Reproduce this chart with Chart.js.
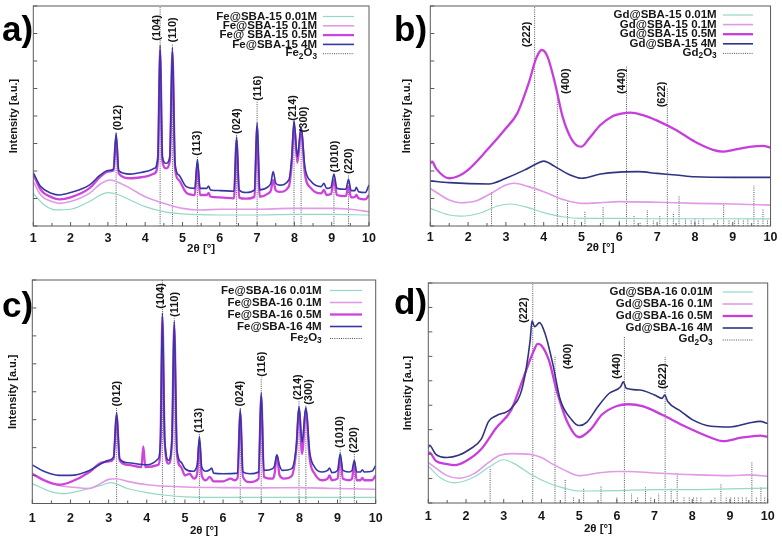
<!DOCTYPE html>
<html>
<head>
<meta charset="utf-8">
<script src="https://cdn.jsdelivr.net/npm/chart.js@4"></script>
<style>
  html, body { margin: 0; padding: 0; background: #fff; }
  #wrap { position: relative; width: 782px; height: 545px; overflow: hidden; }
  canvas { position: absolute; }
</style>
</head>
<body>
<div id="wrap">
  <canvas id="cA" width="391" height="272" style="left:0;top:0"></canvas>
  <canvas id="cB" width="391" height="272" style="left:391px;top:0"></canvas>
  <canvas id="cC" width="391" height="273" style="left:0;top:272px"></canvas>
  <canvas id="cD" width="391" height="273" style="left:391px;top:272px"></canvas>
</div>
<script>
// ------------------ data (2θ, intensity a.u.) ------------------
// a) Fe@SBA-15
const a001 = [[1,14.8],[1.3,9.5],[1.6,7.3],[2,7.6],[2.5,11.1],[2.8,14.1],[3,15.2],[3.3,14.1],[3.6,11.8],[4,8.8],[4.5,6.5],[5,5.5],[6,5],[7,5],[8,5.3],[9,5.3],[10,5]];
const a01 = [[1,20.2],[1.2,14.1],[1.5,11.1],[1.7,10.3],[2,11.1],[2.5,14.8],[2.8,19.1],[3.05,20.9],[3.3,19.7],[3.6,17.1],[4,13.3],[4.5,10.3],[5,8],[5.5,7.3],[6,7.6],[7,7.6],[7.9,8],[8.5,8],[9,8],[9.5,7.6],[10,6.5]];
const a05 = [[1,23.6],[1.2,16.4],[1.5,13],[1.7,12.1],[2,13],[2.5,17.1],[2.8,22.4],[3,24.7],[3.15,25.2],[3.22,40.6],[3.29,23.9],[3.6,21.7],[4,22.4],[4.25,23.9],[4.34,29.5],[4.4,79.8],[4.46,29.5],[4.56,26.2],[4.66,29.5],[4.73,79.2],[4.8,26.2],[4.9,20.9],[5.1,15.2],[5.33,14.1],[5.4,28.5],[5.47,14.1],[5.65,14.1],[5.7,15],[5.75,13.3],[6,13],[6.38,12.6],[6.45,39.1],[6.52,12.9],[6.7,12.4],[6.93,13.3],[7,45.2],[7.07,13.3],[7.3,14.8],[7.37,16.2],[7.43,20.9],[7.5,16.2],[7.6,15.5],[7.85,17.9],[7.93,28.8],[7.99,45.9],[8.08,28.8],[8.18,43.3],[8.28,23.9],[8.45,17.1],[8.72,14.8],[8.79,16.4],[8.86,14.1],[8.98,14.5],[9.06,20.9],[9.14,14.1],[9.38,13.6],[9.45,18],[9.52,13],[9.62,13.2],[9.66,14.1],[9.72,12.6],[9.9,12.1],[10,14.1]];
const a4 = [[1,24.2],[1.2,17.9],[1.5,14.8],[1.7,14.1],[2,15.2],[2.5,18.6],[2.8,23.2],[3,25.2],[3.15,25.8],[3.22,42.1],[3.29,25.2],[3.6,23.6],[4,24.7],[4.25,26.2],[4.34,31.5],[4.4,82.3],[4.46,31.5],[4.56,28.5],[4.66,31.5],[4.73,81.1],[4.8,28.5],[4.9,23.2],[5.1,17.9],[5.33,17.1],[5.4,30.3],[5.47,17.1],[5.65,17.1],[5.7,18.2],[5.75,16.4],[6,16.1],[6.38,15.8],[6.45,40.6],[6.52,16.4],[6.7,15.2],[6.93,16.4],[7,47],[7.07,16.4],[7.3,17.9],[7.37,19.5],[7.43,24.7],[7.5,19.5],[7.6,18.6],[7.85,20.9],[7.93,31.5],[7.99,47.9],[8.08,31.5],[8.18,45.2],[8.28,27],[8.45,20.2],[8.72,17.9],[8.79,19.4],[8.86,17.1],[8.98,17.6],[9.06,23.6],[9.14,17.1],[9.38,16.7],[9.45,21.2],[9.52,16.1],[9.62,16.1],[9.66,17.6],[9.72,15.6],[9.9,15.2],[10,18.6]];
const aRefX = [3.22, 4.40, 4.73, 5.40, 6.45, 7.0, 7.99, 8.18, 9.06, 9.45];
const aRefH = [42.9, 100, 83, 31.5, 41.4, 56.5, 47.4, 42.1, 23.9, 23.2];
const aPeakText = ["(012)", "(104)", "(110)", "(113)", "(024)", "(116)", "(214)", "(300)", "(1010)", "(220)"];
const aPeakX = [3.27, 4.32, 4.75, 5.38, 6.45, 7.02, 7.95, 8.26, 9.09, 9.45];
const aPeakY = [42.9, 83.8, 83, 31.5, 41.4, 56.5, 47.4, 42.1, 23.9, 23.2];
const aNames = ["Fe@SBA-15 0.01M", "Fe@SBA-15 0.1M", "Fe@ SBA-15 0.5M", "Fe@SBA-15 4M"];

// b) Gd@SBA-15
const b001 = [[1,8],[1.5,5],[1.8,4.5],[2.3,5.8],[2.8,9.2],[3.1,10],[3.5,8.8],[4,6.1],[4.5,4.2],[5,3.5],[6,3.5],[7,3.3],[8,3.3],[9,3.3],[10,3.2]];
const b01 = [[1,17.1],[1.5,11.8],[1.8,10.6],[2.2,11.4],[2.6,14.8],[3,18.6],[3.2,19.4],[3.6,17.9],[4,15.6],[4.5,12.1],[5,10.3],[5.5,10.6],[6,11.1],[7,10.8],[8,10.3],[9,10],[10,9.5]];
const b05 = [[1,28.5],[1.05,29.2],[1.15,26.2],[1.5,21.7],[1.8,23.2],[2,25.5],[2.5,34.5],[3,44.4],[3.3,51.2],[3.6,64.8],[3.8,76.2],[3.95,80],[4.1,77],[4.3,64.8],[4.5,49.7],[4.7,40.6],[4.9,36.4],[5,36.1],[5.2,39.8],[5.5,45.9],[5.8,49.7],[6.1,51.2],[6.3,51.5],[6.6,50.5],[7,47.9],[7.5,43.6],[8,38.3],[8.5,34.5],[8.75,33.8],[9,34.5],[9.5,36.1],[9.8,36.4],[10,35.6]];
const b4 = [[1,20.5],[1.5,19.7],[2.55,19.1],[3,21.7],[3.5,25.5],[3.8,28.2],[4,29.5],[4.3,27],[4.7,23.2],[5,21.7],[5.5,23.6],[6,24.5],[6.5,24.7],[7,23.9],[7.5,23.2],[8,22.4],[9,22.1],[10,22.1]];
const bRefX = [2.62, 3.76, 4.36, 4.63, 4.82, 5.09, 5.57, 6.0, 6.19, 6.39, 6.55, 6.74, 6.9, 7.07, 7.27, 7.43, 7.58, 7.75, 7.9, 8.0, 8.1, 8.22, 8.6, 8.76, 8.9, 9.05, 9.15, 9.28, 9.4, 9.56, 9.67, 9.8, 9.92];
const bRefH = [15.6, 100, 58.8, 11.1, 2.7, 7, 8.5, 2.4, 72.4, 5, 2, 7.3, 2.4, 4.5, 63, 6.1, 13.6, 3.5, 2.7, 3.5, 3, 3.5, 2.7, 9.8, 3, 2.7, 3.3, 3, 3.3, 18.3, 2.7, 7.6, 2.7];
const bPeakText = ["(222)", "(400)", "(440)", "(622)"];
const bPeakX = [3.57, 4.58, 6.08, 7.13];
const bPeakY = [80.8, 59.5, 59.5, 53.5];
const bNames = ["Gd@SBA-15 0.01M", "Gd@SBA-15 0.1M", "Gd@SBA-15 0.5M", "Gd@SBA-15 4M"];

// c) Fe@SBA-16
const c001 = [[1,8.9],[1.5,5.2],[1.8,4.4],[2.3,5.9],[2.8,8.1],[3.05,9.3],[3.5,6.7],[4,4.9],[4.5,3.7],[5,3],[6,2.7],[7,2.7],[8,2.7],[9,2.7],[10,2.7]];
const c01 = [[1,13.3],[1.3,10.8],[1.7,8.1],[2,7.4],[2.5,6.7],[2.7,8.1],[3,10.8],[3.2,11.1],[3.5,9.9],[4,8.4],[5,7.4],[6,7.1],[7,7],[8,7.1],[9,6.7],[10,6.4]];
const c05 = [[1,13.3],[1.3,10.4],[1.7,8.4],[2,9.6],[2.5,14.1],[2.8,18.2],[3,18.8],[3.13,20],[3.21,39.3],[3.29,19.3],[3.5,17.3],[3.86,16.3],[3.91,25.6],[3.96,16.3],[4.3,17.3],[4.36,27.4],[4.41,83.7],[4.47,27.4],[4.57,17.8],[4.66,27.4],[4.72,80],[4.79,22.2],[4.9,16.3],[5,12.6],[5.13,13.3],[5.17,12.4],[5.24,11.1],[5.32,13.3],[5.38,28.1],[5.44,12.6],[5.55,10.4],[5.65,11.9],[5.75,9.9],[6,9.9],[6.2,11.1],[6.3,10.4],[6.38,11.4],[6.45,40.7],[6.52,11.9],[6.7,9.6],[6.93,11.1],[7,48.1],[7.07,11.9],[7.3,11.1],[7.35,13.3],[7.41,21.5],[7.48,12.6],[7.6,11.1],[7.8,12.3],[7.92,24.4],[7.99,42.2],[8.07,22.2],[8.17,41.9],[8.27,20],[8.4,13.3],[8.6,10.4],[8.74,11.1],[8.79,12.6],[8.85,10.4],[9,11.1],[9.07,20.7],[9.14,11.1],[9.3,10.4],[9.38,11.1],[9.44,18.5],[9.5,10.4],[9.6,10.4],[9.65,11.5],[9.7,10.4],[9.9,10.4],[10,12.6]];
const c4 = [[1,17.3],[1.3,14.4],[1.7,12.6],[2,12.6],[2.5,14.8],[2.8,17.8],[3,19.3],[3.13,20.7],[3.21,40.7],[3.29,20],[3.5,18.2],[4,17.3],[4.3,20],[4.36,28.9],[4.41,85.2],[4.47,28.9],[4.57,19.3],[4.66,28.9],[4.72,81.5],[4.79,24.4],[4.9,18.5],[5,15.6],[5.2,14.4],[5.32,17],[5.38,29.9],[5.44,16.3],[5.55,14.4],[5.65,15.1],[5.7,15.9],[5.75,13.6],[6,13.3],[6.38,13.6],[6.45,42.2],[6.52,14.1],[6.7,13.3],[6.93,14.1],[7,49.6],[7.07,14.8],[7.3,15.6],[7.35,17],[7.41,21.8],[7.48,17],[7.55,14.8],[7.8,15.6],[7.92,25.9],[7.99,43.4],[8.07,27.4],[8.17,43],[8.27,23],[8.4,16.3],[8.6,14.1],[8.74,14.8],[8.79,15.9],[8.85,13.8],[9,14.8],[9.07,22.2],[9.14,14.8],[9.3,14.1],[9.38,14.8],[9.44,19.3],[9.5,14.1],[9.6,14.1],[9.65,15.1],[9.7,14.1],[9.9,14.4],[10,17]];
const cRefX = [3.21, 4.41, 4.72, 5.38, 6.45, 7.0, 7.99, 8.17, 9.07, 9.44];
const cRefH = [43, 100, 83, 31.1, 43, 56.3, 45.9, 43.7, 24.4, 22.2];
const cPeakText = ["(012)", "(104)", "(110)", "(113)", "(024)", "(116)", "(214)", "(300)", "(1010)", "(220)"];
const cPeakX = [3.21, 4.36, 4.74, 5.38, 6.45, 7.01, 7.97, 8.26, 9.07, 9.44];
const cPeakY = [43, 86.7, 83, 31.1, 43, 56.3, 45.9, 43.7, 24.4, 22.2];
const cNames = ["Fe@SBA-16 0.01M", "Fe@SBA-16 0.1M", "Fe@SBA-16 0.5M", "Fe@SBA-16 4M"];

// d) Gd@SBA-16
const d001 = [[1,15.2],[1.3,10.5],[1.7,8.2],[2.2,10.5],[2.6,14.6],[3,17.7],[3.3,15.9],[3.7,11.9],[4.2,8.1],[4.6,6.1],[5,4.9],[6,5.1],[7,5.5],[8,5.5],[9,5.8],[10,6.1]];
const d01 = [[1,16.6],[1.5,11.2],[1.8,10.1],[2.2,11.9],[2.6,16.6],[2.9,19.5],[3.2,20.2],[3.7,19.9],[4,18.6],[4.3,15.9],[4.7,12.8],[5,11.2],[5.5,12.3],[6,12.9],[6.3,12.9],[7,12.3],[8,11.6],[9,11.2],[9.5,11.5],[10,10.9]];
const d05 = [[1,19.9],[1.03,20.6],[1.2,17.2],[1.5,15.9],[1.7,15.5],[2,17.2],[2.4,22],[2.8,30.7],[3.2,38.1],[3.5,50.3],[3.8,62.4],[3.9,65.1],[4,64.4],[4.2,58.3],[4.4,46.2],[4.7,32.7],[5,26.9],[5.3,30],[5.6,36.1],[6,39.7],[6.3,40.4],[6.7,39.5],[7.2,36.1],[7.8,31.4],[8.5,26.7],[8.8,25.3],[9.3,26.7],[9.8,27.6],[10,27.1]];
const d4 = [[1,22.6],[1.03,23.6],[1.2,19.9],[1.5,18.6],[1.8,19.5],[2.1,22],[2.4,26],[2.6,33.4],[2.8,35.7],[3.2,38.8],[3.5,47.6],[3.7,66.4],[3.75,74.5],[3.82,72.1],[3.95,73.8],[4.1,69.1],[4.3,57],[4.5,42.2],[4.8,34.1],[5,31.7],[5.2,33],[5.5,39.5],[5.8,44.9],[6.1,47.6],[6.17,49.6],[6.25,46.9],[6.6,46.2],[7,44.2],[7.2,42.8],[7.27,44.2],[7.35,41.5],[7.7,37.5],[8,34.1],[8.5,31.4],[9,31.1],[9.5,32.7],[9.8,33.4],[10,32.5]];
const dRefX = [2.64, 3.77, 4.36, 4.63, 4.85, 5.12, 5.58, 6.0, 6.2, 6.39, 6.55, 6.76, 6.9, 7.11, 7.28, 7.44, 7.6, 7.78, 7.92, 8.03, 8.12, 8.23, 8.6, 8.76, 8.9, 9.02, 9.12, 9.22, 9.33, 9.43, 9.58, 9.7, 9.82, 9.92];
const dRefH = [14.5, 90, 60.4, 9.8, 2.4, 5.8, 7.1, 2.4, 68.4, 3.8, 2.2, 6.5, 2.2, 3.8, 59.7, 5.8, 12.1, 2.4, 2.4, 2.4, 2.4, 2.4, 2.4, 8.1, 2.4, 2.4, 2.4, 2.4, 2.4, 2.4, 16.8, 2.4, 6.5, 2.4];
const dPeakText = ["(222)", "(400)", "(440)", "(622)"];
const dPeakX = [3.54, 4.70, 6.0, 7.22];
const dPeakY = [73.2, 54.3, 50.3, 46.2];
const dNames = ["Gd@SBA-16 0.01M", "Gd@SBA-16 0.1M", "Gd@SBA-16 0.5M", "Gd@SBA-16 4M"];

const feOxide = [["Fe", 0], ["2", 1], ["O", 0], ["3", 1]];
const gdOxide = [["Gd", 0], ["2", 1], ["O", 0], ["3", 1]];

// ------------------ styles ------------------
const FONT = '"Liberation Sans", Arial, sans-serif';
const INK = "#161616";
const seriesWidth = [1.2, 1.6, 2.3, 1.6];
const REF_COLOR = "#4a5262";

function toPts(arr) {
    return arr.map(([x, y]) => ({ x, y }));
}

function refPts(xs, hs) {
    const pts = [];
    xs.forEach((x, i) => pts.push({ x, y: 0 }, { x, y: hs[i] }, { x, y: null }));
    return pts;
}

function drawRich(ctx, parts, xRight, y, size) {
    let w = 0;
    parts.forEach(([t, sub]) => {
        ctx.font = `bold ${sub ? size * 0.72 : size}px ${FONT}`;
        w += ctx.measureText(t).width;
    });
    let x = xRight - w;
    parts.forEach(([t, sub]) => {
        ctx.font = `bold ${sub ? size * 0.72 : size}px ${FONT}`;
        ctx.fillText(t, x, sub ? y + size * 0.32 : y);
        x += ctx.measureText(t).width;
    });
}

// frame, inward ticks, peak labels, legend, panel letter
function decoPlugin(p) {
    return {
        id: "deco",
        afterDraw(chart) {
            const { ctx, chartArea: ca } = chart;
            const xs = chart.scales.x, ys = chart.scales.y;
            ctx.save();
            ctx.strokeStyle = "#5a5a5a";
            ctx.lineWidth = 1;
            ctx.strokeRect(ca.left, ca.top, ca.right - ca.left, ca.bottom - ca.top);
            ctx.beginPath();
            ys.ticks.forEach(t => {
                const py = ys.getPixelForValue(t.value);
                ctx.moveTo(ca.left, py); ctx.lineTo(ca.left + 4, py);
            });
            xs.ticks.forEach(t => {
                const px = xs.getPixelForValue(t.value);
                ctx.moveTo(px, ca.bottom); ctx.lineTo(px, ca.bottom - 4);
                if (t.value < xs.max) {
                    const ph = xs.getPixelForValue(t.value + 0.5);
                    ctx.moveTo(ph, ca.bottom); ctx.lineTo(ph, ca.bottom - 3);
                }
            });
            ctx.stroke();

            // rotated peak labels
            ctx.fillStyle = INK;
            ctx.font = `bold 11px ${FONT}`;
            ctx.textAlign = "left";
            ctx.textBaseline = "middle";
            p.peakText.forEach((t, i) => {
                ctx.save();
                ctx.translate(xs.getPixelForValue(p.peakX[i]), ys.getPixelForValue(p.peakY[i]));
                ctx.rotate(-Math.PI / 2);
                ctx.fillText(t, 1, 0);
                ctx.restore();
            });

            // legend
            const lg = p.legend;
            ctx.textBaseline = "middle";
            p.names.forEach((name, i) => {
                const y = lg.y0 + i * lg.step;
                ctx.textAlign = "right";
                ctx.font = `bold 11.5px ${FONT}`;
                ctx.fillText(name, lg.textRight, y);
                ctx.strokeStyle = p.colors[i];
                ctx.lineWidth = seriesWidth[i];
                ctx.beginPath(); ctx.moveTo(lg.x1, y); ctx.lineTo(lg.x2, y); ctx.stroke();
            });
            const yo = lg.y0 + 4 * lg.step;
            ctx.textAlign = "left";
            drawRich(ctx, p.oxide, lg.textRight, yo - 1, 11.5);
            ctx.strokeStyle = REF_COLOR;
            ctx.lineWidth = 1;
            ctx.setLineDash([1, 1.2]);
            ctx.beginPath(); ctx.moveTo(lg.x1, yo); ctx.lineTo(lg.x2, yo); ctx.stroke();
            ctx.setLineDash([]);

            // panel letter
            ctx.textBaseline = "alphabetic";
            ctx.textAlign = "left";
            ctx.font = `bold 35px ${FONT}`;
            ctx.fillStyle = "#000";
            ctx.fillText(p.letter, p.letterX, p.letterY);
            ctx.restore();
        }
    };
}

function makePanel(p) {
    const canvas = document.getElementById(p.id);
    const W = canvas.width, H = canvas.height;
    const order = [3, 2, 1, 0];
    const datasets = p.series.map((s, i) => ({
        data: toPts(s),
        borderColor: p.colors[i],
        borderWidth: seriesWidth[i],
        pointRadius: 0,
        fill: false,
        cubicInterpolationMode: "monotone",
        order: order[i]
    }));
    datasets.push({
        data: refPts(p.refX, p.refH),
        borderColor: REF_COLOR,
        borderWidth: 1,
        borderDash: [1, 1.2],
        pointRadius: 0,
        fill: false,
        tension: 0,
        spanGaps: false,
        order: 5
    });

    new Chart(canvas, {
        type: "line",
        data: { datasets },
        options: {
            responsive: false,
            animation: false,
            events: [],
            layout: { padding: { left: 0, top: p.top, right: W - p.right, bottom: 0 } },
            plugins: { legend: { display: false }, tooltip: { enabled: false } },
            scales: {
                x: {
                    type: "linear", min: 1, max: 10,
                    afterFit: s => { s.height = H - p.bottom; },
                    grid: { display: false, drawTicks: false },
                    border: { display: false },
                    ticks: { stepSize: 1, autoSkip: false, maxRotation: 0, padding: p.tickPad,
                             color: INK, font: { family: FONT, size: 12.5, weight: "bold" } },
                    title: { display: true, text: "2θ [°]", color: INK,
                             font: { family: FONT, size: 11.5, weight: "bold" },
                             padding: { top: 0, bottom: p.xTitlePad } }
                },
                y: {
                    type: "linear", min: 0, max: p.yMax,
                    afterFit: s => { s.width = p.left; },
                    grid: { display: false, drawTicks: false },
                    border: { display: false },
                    ticks: { display: false, stepSize: p.yStep },
                    title: { display: true, text: "Intensity [a.u.]", color: INK,
                             font: { family: FONT, size: 11, weight: "bold" },
                             padding: { top: p.yTitlePad, bottom: 0 } }
                }
            }
        },
        plugins: [decoPlugin(p)]
    });
}

const feColors = ["#93d8c8", "#e19ae8", "#cc44dc", "#3636a4"];
const gdColors = ["#93d8c8", "#e19ae8", "#c83edc", "#30337f"];

makePanel({
    id: "cA", series: [a001, a01, a05, a4], colors: feColors, refX: aRefX, refH: aRefH,
    peakText: aPeakText, peakX: aPeakX, peakY: aPeakY, names: aNames, oxide: feOxide,
    left: 33.3, right: 369, top: 6, bottom: 226, yMax: 100, yStep: 12.5,
    tickPad: 4.8, xTitlePad: 16.1, yTitlePad: 7.4,
    legend: { textRight: 317, x1: 323, x2: 354, y0: 16.5, step: 9.3 },
    letter: "a)", letterX: 2, letterY: 41
});
makePanel({
    id: "cB", series: [b001, b01, b05, b4], colors: gdColors, refX: bRefX, refH: bRefH,
    peakText: bPeakText, peakX: bPeakX, peakY: bPeakY, names: bNames, oxide: gdOxide,
    left: 39.3, right: 380, top: 6, bottom: 226, yMax: 100, yStep: 12.5,
    tickPad: 4.5, xTitlePad: 16.8, yTitlePad: 9.7,
    legend: { textRight: 325.7, x1: 332, x2: 362, y0: 15, step: 9.6 },
    letter: "b)", letterX: 3, letterY: 41
});
makePanel({
    id: "cC", series: [c001, c01, c05, c4], colors: feColors, refX: cRefX, refH: cRefH,
    peakText: cPeakText, peakX: cPeakX, peakY: cPeakY, names: cNames, oxide: feOxide,
    left: 32.3, right: 375.7, top: 8, bottom: 231.5, yMax: 100, yStep: 12.5,
    tickPad: 8, xTitlePad: 7.6, yTitlePad: 6.4,
    legend: { textRight: 321.7, x1: 330, x2: 362, y0: 18.5, step: 12 },
    letter: "c)", letterX: 2, letterY: 45
});
makePanel({
    id: "cD", series: [d001, d01, d05, d4], colors: gdColors, refX: dRefX, refH: dRefH,
    peakText: dPeakText, peakX: dPeakX, peakY: dPeakY, names: dNames, oxide: gdOxide,
    left: 37.3, right: 376.7, top: 11, bottom: 231, yMax: 90, yStep: 10,
    tickPad: 6.2, xTitlePad: 9.4, yTitlePad: 10.4,
    legend: { textRight: 321.7, x1: 331.7, x2: 361.7, y0: 20, step: 12 },
    letter: "d)", letterX: 3, letterY: 41.7
});
</script>
</body>
</html>
